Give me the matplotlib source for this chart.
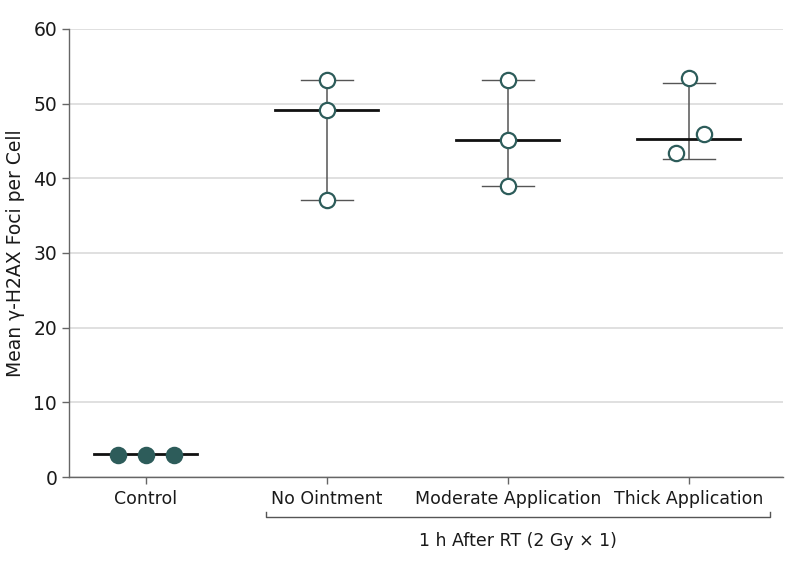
import numpy as np
import matplotlib
matplotlib.use('Agg')
import matplotlib.pyplot as plt

plt.rcParams['font.family'] = ['DejaVu Sans']

# datos
groups = ['Control', 'No Ointment', 'Moderate Application', 'Thick Application']
values = [[3.0, 3.0, 3.0], [53.1, 49.1, 37.1], [53.1, 45.1, 39.0], [53.5, 45.9, 43.4]]
jitter = [[-0.155, 0.0, 0.155], [0.0, 0.0, 0.0], [0.0, 0.0, 0.0], [0.0, 0.085, -0.07]]
center = [3.05, 49.1, 45.1, 45.2]
upper = [3.05, 53.1, 53.1, 52.8]
lower = [3.05, 37.1, 39.0, 42.6]
filled = [True, False, False, False]
group_label = '1 h After RT (2 Gy × 1)'

teal = '#2d5c5a'
fig = plt.figure(figsize=(7.94, 5.67), dpi=100)
ax = fig.add_axes([0.0869, 0.1587, 0.8992, 0.7902])

for i in range(len(groups)):
    # bigotes y caps
    if upper[i] != lower[i]:
        ax.plot([i, i], [lower[i], upper[i]], color='#555555', lw=1.1, zorder=2)
        ax.plot([i - 0.145, i + 0.145], [upper[i], upper[i]], color='#555555', lw=1.0, zorder=2)
        ax.plot([i - 0.145, i + 0.145], [lower[i], lower[i]], color='#555555', lw=1.0, zorder=2)
    ax.plot([i - 0.285, i + 0.285], [center[i], center[i]], color='#111111', lw=2.0, zorder=3)
    xs = [i + d for d in jitter[i]]
    ax.plot(xs, values[i], 'o', ms=11, mew=1.6, mec=teal,
            mfc=teal if filled[i] else 'white', zorder=4, clip_on=False)

ax.set_xlim(-0.425, 3.52)
ax.set_ylim(0, 60)
ax.set_yticks(np.arange(0, 61, 10))
ax.set_xticks(range(len(groups)))
ax.set_xticklabels(groups)
ax.grid(axis='y', color='#dadada', lw=1.2)
ax.set_axisbelow(True)
for s in ['top', 'right']:
    ax.spines[s].set_visible(False)
for s in ['left', 'bottom']:
    ax.spines[s].set_color('#666666')
    ax.spines[s].set_linewidth(1.0)
ax.tick_params(axis='both', colors='#666666', labelcolor='#1a1a1a', labelsize=12.5, length=5, width=1.0)
ax.tick_params(axis='y', labelsize=13.5)
ax.tick_params(axis='x', pad=4)
ax.set_ylabel('Mean γ-H2AX Foci per Cell', fontsize=13.5, color='#1a1a1a', labelpad=6)

# corchete del grupo
trans = ax.get_xaxis_transform()
bx0, bx1, by, bh = 0.663, 3.45, -0.089, 0.012
ax.plot([bx0, bx0, bx1, bx1], [by + bh, by, by, by + bh], color='#555555', lw=1.0,
        transform=trans, clip_on=False)
ax.text((bx0 + bx1) / 2, -0.143, group_label, transform=trans, ha='center', va='center',
        fontsize=12.5, color='#1a1a1a')

plt.savefig('out.png', dpi=100)
